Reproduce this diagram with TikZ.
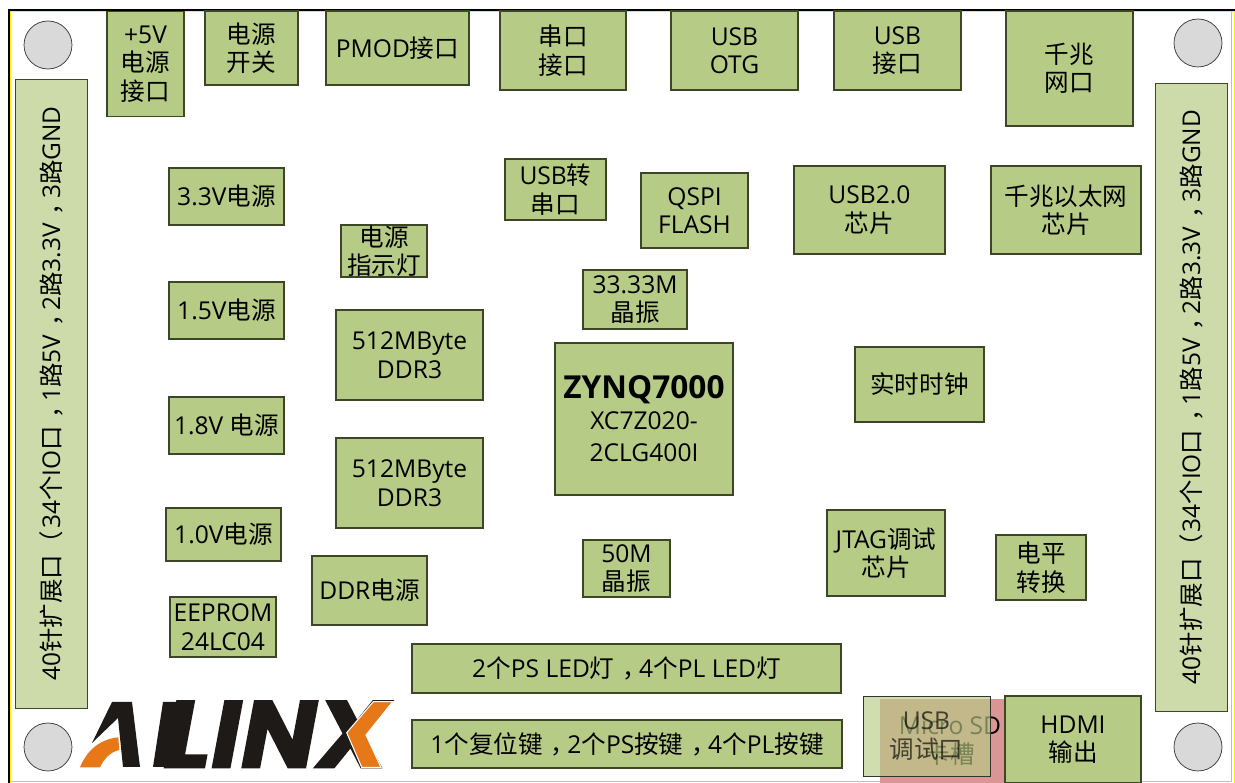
\documentclass[tikz,border=0pt]{standalone}
\usepackage{fontspec}
\setmainfont{Open Sans}
\newfontfamily\hanfont{Noto Sans CJK SC}
\newfontfamily\logofont[BoldItalicFeatures={FakeBold=1.6}]{Poppins}
% Chinese characters switch to the CJK face by themselves
\XeTeXinterchartokenstate=1
\newXeTeXintercharclass\hanclass
\count255="4E00
\loop\XeTeXcharclass\count255=\hanclass\ifnum\count255<"9FFF\advance\count255 by 1\repeat
\XeTeXcharclass"FF08=\hanclass
\XeTeXcharclass"FF0C=\hanclass
\XeTeXinterchartoks 0 \hanclass={\hanfont}
\XeTeXinterchartoks 4095 \hanclass={\hanfont}
\XeTeXinterchartoks \hanclass 0={\normalfont}
\XeTeXinterchartoks \hanclass 4095={\normalfont}
\newcommand\midcomma{\kern.33em，\kern-.33em}
\definecolor{partgreen}{HTML}{B6CB85}
\definecolor{edgegreen}{HTML}{3D4728}
\definecolor{padgreen}{HTML}{CCDBA9}
\definecolor{holegray}{HTML}{D9D9D9}
\definecolor{sdred}{HTML}{DA9694}
\definecolor{logoorange}{HTML}{E67817}
\definecolor{logoblack}{HTML}{1E1A17}
\tikzset{
  part/.style 2 args={draw=edgegreen,fill=partgreen,line width=0.6pt,align=center,inner sep=0pt,
    minimum width=#1*0.02cm,minimum height=#2*0.02cm,font=\fontsize{14}{16.2}\selectfont},
  pad/.style 2 args={draw=edgegreen,fill=padgreen,line width=0.5pt,align=center,inner sep=0pt,
    minimum width=#1*0.02cm,minimum height=#2*0.02cm,font=\fontsize{13.9}{16.2}\selectfont},
  hole/.style={circle,draw=black!80,fill=holegray,line width=0.4pt,minimum size=0.96cm,inner sep=0pt}
}
\begin{document}
\begin{tikzpicture}[x=0.02cm,y=-0.02cm]
      \useasboundingbox (0,0) rectangle (1235,783);
      \fill[white] (0,0) rectangle (1235,783);
      \draw[black!25,line width=0.6pt] (10,781.5) -- (1231.5,781.5) -- (1231.5,11);
      \draw[yellow,line width=0.6pt] (10.8,783) -- (10.8,11.5) -- (1234.5,11.5) -- (1234.5,783);
      \draw[black,line width=1.15pt] (9.3,783) -- (9.3,10) -- (1235,10);
      \draw
        (48,45) node[hole] (holea){}
        (1198,43) node[hole] (holeb){}
        (48,747) node[hole] (holec){}
        (1198,747) node[hole] (holed){};
      \draw
        (145.5,64) node[part={77}{105}] (power){+5V\\电源\\接口}
        (251.5,48) node[part={93}{74}] (switch){电源\\开关}
        (397.5,48) node[part={143}{74}] (pmod){PMOD接口}
        (563,50.5) node[part={126}{79}] (uart){串口\\接口}
        (734.5,50.5) node[part={127}{79}] (otg){USB\\OTG}
        (897.5,50.5) node[part={127}{79}] (usbport){USB\\接口}
        (1069.5,68.5) node[part={127}{115}] (rj){千兆\\网口}
        (226.5,196.5) node[part={115}{57}] (vthree){3.3V电源}
        (226.5,310.5) node[part={115}{57}] (vonefive){1.5V电源}
        (226.5,425.5) node[part={115}{57}] (voneeight){1.8V 电源}
        (223.5,534.5) node[part={115}{53}] (vone){1.0V电源}
        (223,627) node[part={106}{60}] (eeprom){EEPROM\\24LC04}
        (369.5,590.5) node[part={115}{69}] (ddrpower){DDR电源}
        (384,251) node[part={86}{52}] (led){电源\\指示灯}
        (409.5,355) node[part={147}{90}] (ddra){512MByte\\DDR3}
        (409.5,483) node[part={147}{90}] (ddrb){512MByte\\DDR3}
        (555.5,189.5) node[part={101}{61}] (bridge){USB转\\串口}
        (694.5,210.5) node[part={107}{75}] (qspi){QSPI\\FLASH}
        (869.5,210) node[part={151}{88}] (phyusb){USB2.0\\芯片}
        (1066,210) node[part={150}{88}] (phyeth){千兆以太网\\芯片}
        (635,299.5) node[part={104}{59}] (xtala){33.33M\\晶振}
        (644,419) node[part={178}{152}] (zynq){{\fontsize{18}{22}\selectfont\bfseries ZYNQ7000}\\[1pt]XC7Z020-\\[2.5pt]2CLG400I}
        (919.5,384.5) node[part={129}{75}] (rtc){实时时钟}
        (886,553) node[part={118}{86}] (jtag){JTAG调试\\芯片}
        (1041,567.5) node[part={90}{65}] (level){电平\\转换}
        (626.5,568.5) node[part={87}{57}] (xtalb){50M\\晶振}
        (626.5,668.5) node[part={429}{49}] (leds){2个PS LED灯\midcomma 4个PL LED灯}
        (627,744) node[part={430}{48}] (keys){1个复位键\midcomma 2个PS按键\midcomma 4个PL按键}
        (950,741) node[part={140}{84},fill=sdred,draw=none] (sdcard){Micro SD\\卡槽}
        (926.5,736) node[part={127}{80},fill=partgreen,fill opacity=0.65,draw=black!80,line width=0.5pt] (debug){USB\\调试口}
        (1073,739.5) node[part={136}{87}] (hdmi){HDMI\\输出}
        (51,393.5) node[pad={72}{629}] (heada){\rotatebox{90}{40针扩展口（\kern1pt 34个IO口\midcomma 1路5V\midcomma 2路3.3V\midcomma 3路GND}}
        (1191,397) node[pad={72}{628}] (headb){\rotatebox{90}{40针扩展口（\kern1pt 34个IO口\midcomma 1路5V\midcomma 2路3.3V\midcomma 3路GND}};
      % logo word, then the A, the L stem and the orange strokes over it
      \node[text=logoblack,inner sep=0pt,anchor=base west,font=\logofont\bfseries\itshape\fontsize{54}{54}\selectfont,xscale=1.06] (logo) at (89,767.5) {ALINX};
      \fill[white] (89,700) -- (168,700) -- (159.5,772) -- (75,772) -- (75,710) -- (89,710) -- cycle;
      \fill[logoblack] (112,702) -- (132,702) -- (140,767) -- (123,767) -- (118,718) -- (92,743) -- cycle;
      \fill[logoblack] (163,702) -- (182,702) -- (172,767) -- (153,767) -- cycle;
      \fill[logoorange] (80,767.3) .. controls (88,748) and (102,739) .. (118.3,737.3) -- (119.3,750) .. controls (110,752) and (104,759) .. (100,767.3) -- cycle;
      \fill[logoorange,draw=white,line width=0.6pt] (346.7,732.7) -- (373.3,701.7) -- (392.7,701.7) -- (366,735) -- (381,767.3) -- (361.7,767.3) -- cycle;
    \end{tikzpicture}
\end{document}
